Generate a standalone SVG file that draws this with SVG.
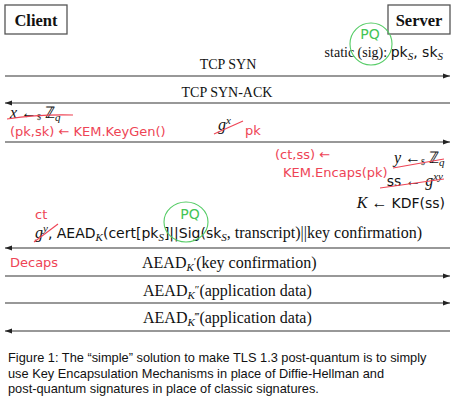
<svg xmlns="http://www.w3.org/2000/svg" width="456" height="404" viewBox="0 0 456 404">
<style>
.box{fill:#fff;stroke:#555;stroke-width:1.3}
.hdr{font-family:"Liberation Serif",serif;font-weight:bold;font-size:16.5px;fill:#111}
.t{font-family:"Liberation Serif",serif;font-size:14px;fill:#111}
.tb{font-family:"Liberation Serif",serif;font-size:16px;fill:#111}
.s{font-family:"DejaVu Sans","Liberation Sans",sans-serif;font-size:14px;fill:#111}
.i{font-style:italic}
.msg{stroke:#333;stroke-width:1.2;fill:none}
.red{font-family:"DejaVu Sans",sans-serif;font-size:13px;fill:#ee4455}
.rl{stroke:#ee4455;stroke-width:1.1;fill:none}
.gr{font-family:"DejaVu Sans",sans-serif;font-size:14px;fill:#44c455}
.gl{stroke:#55cc66;stroke-width:1.1;fill:none}
.cap{font-family:"Liberation Sans",Arial,sans-serif;font-size:12.8px;fill:#111}
</style>
<defs>
<marker id="ah" markerWidth="8" markerHeight="6" refX="7" refY="3" orient="auto" markerUnits="userSpaceOnUse">
<path d="M0,0.5 L7,3 L0,5.5 Z" fill="#222"/>
</marker>
</defs>

<g id="client">
<rect class="box" x="5" y="5" width="62" height="29"/>
<text class="hdr" x="36" y="26" text-anchor="middle">Client</text>
</g>
<g id="server">
<rect class="box" x="388" y="5" width="62" height="29"/>
<text class="hdr" x="419" y="26" text-anchor="middle">Server</text>
</g>

<g id="server-static">
<text class="t" x="443" y="57" font-size="15px" text-anchor="end">static (sig): <tspan class="s" font-size="14px">pk</tspan><tspan class="i" font-size="11px" dy="3">S</tspan><tspan class="s" font-size="14px" dy="-3">, sk</tspan><tspan class="i" font-size="11px" dy="3">S</tspan></text>
<circle class="gl" cx="371" cy="44" r="21"/>
<text class="gr" x="370" y="39" text-anchor="middle">PQ</text>
</g>

<g id="connectors">
<line class="msg" x1="5" y1="76" x2="450" y2="76" marker-end="url(#ah)"/>
<line class="msg" x1="450" y1="103" x2="5" y2="103" marker-end="url(#ah)"/>
<line class="msg" x1="5" y1="142" x2="450" y2="142" marker-end="url(#ah)"/>
<line class="msg" x1="450" y1="248" x2="5" y2="248" marker-end="url(#ah)"/>
<line class="msg" x1="5" y1="276" x2="450" y2="276" marker-end="url(#ah)"/>
<line class="msg" x1="5" y1="303" x2="450" y2="303" marker-end="url(#ah)"/>
<line class="msg" x1="450" y1="331" x2="5" y2="331" marker-end="url(#ah)"/>
</g>

<g id="labels">
<text class="t" x="228" y="69" text-anchor="middle">TCP SYN</text>
<text class="t" x="227" y="97" text-anchor="middle">TCP SYN-ACK</text>
<text class="tb" x="218" y="130"><tspan class="i">g</tspan><tspan class="i" font-size="11px" dy="-6">x</tspan></text>
<text class="tb" x="142" y="268">AEAD<tspan class="i" font-size="11px" dy="3">K</tspan><tspan font-size="11px" dy="-6">′</tspan><tspan dy="3">(key confirmation)</tspan></text>
<text class="tb" x="143" y="296">AEAD<tspan class="i" font-size="11px" dy="3">K</tspan><tspan font-size="11px" dy="-6">″</tspan><tspan dy="3">(application data)</tspan></text>
<text class="tb" x="143" y="323">AEAD<tspan class="i" font-size="11px" dy="3">K</tspan><tspan font-size="11px" dy="-6">‴</tspan><tspan dy="3">(application data)</tspan></text>
<text class="tb" x="35" y="238"><tspan class="i">g</tspan><tspan class="i" font-size="11px" dy="-6">y</tspan><tspan class="s" dy="6">, AEAD</tspan><tspan class="i" font-size="11px" dy="3">K</tspan><tspan class="s" dy="-3">(cert[pk</tspan><tspan class="i" font-size="11px" dy="3">S</tspan><tspan class="s" dy="-3">]||Sig(sk</tspan><tspan class="i" font-size="11px" dy="3">S</tspan><tspan dy="-3">, transcript)||key confirmation)</tspan></text>
</g>

<g id="client-keygen">
<text class="tb" x="10" y="118"><tspan class="i">x</tspan> ←<tspan font-size="8px" dy="2">$</tspan> <tspan dy="-2">ℤ</tspan><tspan class="i" font-size="11px" dy="3">q</tspan></text>
</g>

<g id="server-compute">
<text class="tb" x="394" y="163"><tspan class="i">y</tspan> ←<tspan font-size="8px" dy="2">$</tspan> <tspan dy="-2">ℤ</tspan><tspan class="i" font-size="11px" dy="3">q</tspan></text>
<text class="tb" x="443" y="186" text-anchor="end"><tspan class="s" font-size="14px">ss</tspan> ← <tspan class="i">g</tspan><tspan class="i" font-size="11px" dy="-6">xy</tspan></text>
<text class="tb" x="445" y="208" text-anchor="end"><tspan class="i">K</tspan> ← <tspan class="s" font-size="14px">KDF(ss)</tspan></text>
</g>

<g id="annotations">
<path class="rl" d="M7,119 Q40,114 73,115"/>
<text class="red" x="10" y="136">(pk,sk) ← KEM.KeyGen()</text>
<path class="rl" d="M214,134 L243,121"/>
<text class="red" x="245" y="135">pk</text>
<text class="red" x="275" y="159" font-size="15px">(ct,ss) ←</text>
<text class="red" x="283" y="176.5" font-size="9.5px">KEM.Encaps(pk)</text>
<path class="rl" d="M393,168 L444,159"/>
<path class="rl" d="M380,188 L444,179"/>
<path class="rl" d="M34,242 L58,224"/>
<text class="red" x="35" y="219" font-size="14px">ct</text>
<text class="red" x="10" y="267" font-size="12.5px">Decaps</text>
<ellipse class="gl" cx="186" cy="222" rx="22" ry="20"/>
<text class="gr" x="190" y="219" text-anchor="middle">PQ</text>
</g>

<g id="caption">
<text class="cap" x="8" y="362">Figure 1: The “simple” solution to make TLS 1.3 post-quantum is to simply</text>
<text class="cap" x="8" y="377.5">use Key Encapsulation Mechanisms in place of Diffie-Hellman and</text>
<text class="cap" x="8" y="393">post-quantum signatures in place of classic signatures.</text>
</g>
</svg>
